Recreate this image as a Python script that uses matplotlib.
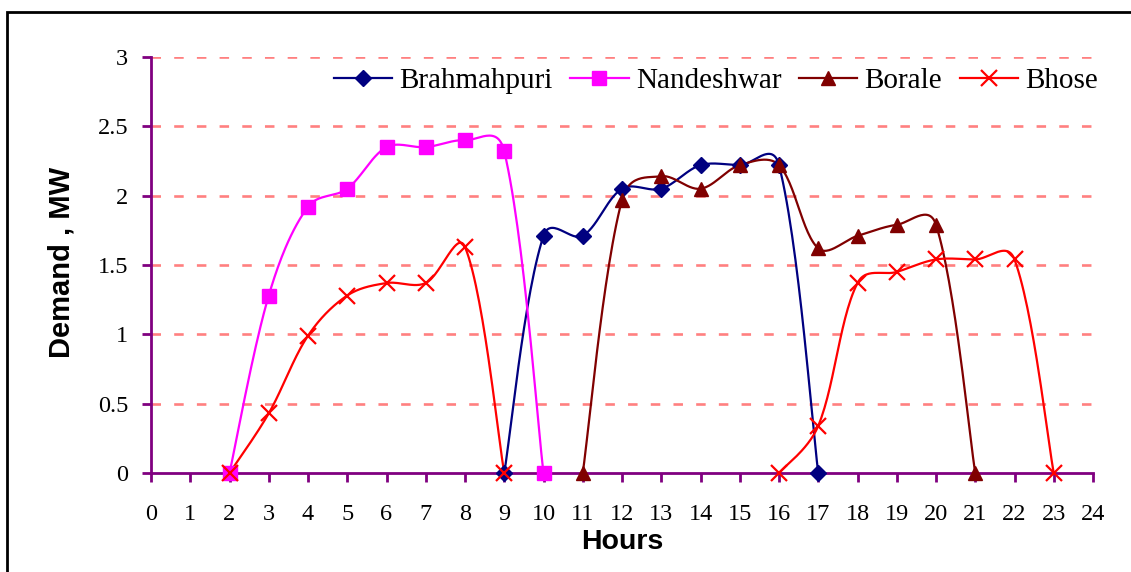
import numpy as np
import matplotlib
matplotlib.use("Agg")
import matplotlib.pyplot as plt
from matplotlib.lines import Line2D
from matplotlib.patches import Rectangle

# hourly demand (MW) at each substation
brahmahpuri_hours = [9, 10, 11, 12, 13, 14, 15, 16, 17]
brahmahpuri_demand = [0, 1.71, 1.71, 2.05, 2.05, 2.22, 2.22, 2.22, 0]

nandeshwar_hours = [2, 3, 4, 5, 6, 7, 8, 9, 10]
nandeshwar_demand = [0, 1.28, 1.92, 2.05, 2.35, 2.35, 2.40, 2.32, 0]

borale_hours = [11, 12, 13, 14, 15, 16, 17, 18, 19, 20, 21]
borale_demand = [0, 1.97, 2.14, 2.05, 2.22, 2.22, 1.62, 1.71, 1.79, 1.79, 0]

bhose_hours = [2, 3, 4, 5, 6, 7, 8, 9, 16, 17, 18, 19, 20, 21, 22, 23]
bhose_demand = [0, 0.43, 0.99, 1.28, 1.37, 1.37, 1.63, 0,
                0, 0.34, 1.37, 1.45, 1.54, 1.54, 1.54, 0]

x_ticks = list(range(0, 25))
y_ticks = [0, 0.5, 1, 1.5, 2, 2.5, 3]

SERIES = [
    ("Brahmahpuri", brahmahpuri_hours, brahmahpuri_demand, "#000080", "D", 8.5),
    ("Nandeshwar", nandeshwar_hours, nandeshwar_demand, "#FF00FF", "s", 9.5),
    ("Borale", borale_hours, borale_demand, "#800000", "^", 10.5),
    ("Bhose", bhose_hours, bhose_demand, "#FF0000", "x", 12),
]

# screen scale (pixels per data unit) used to weight the smoothing
PX_PER_HOUR = (1093 - 151) / 24
PX_PER_MW = (473 - 57) / 3
UNIFORM_WEIGHT = 0.35


def smooth_curve(x, y, steps=30):
    """Bezier smoothing through every point; control arms partly scaled by
    neighbouring segment lengths so short segments don't overshoot much."""
    pts = np.column_stack([x, y]).astype(float)
    scale = np.array([PX_PER_HOUR, PX_PER_MW])
    scr = pts * scale
    n = len(pts)

    def seg_len(a, b):
        return np.hypot(*(scr[b] - scr[a]))

    def arm(d_this, d_other):
        chord = d_this / (d_this + d_other) / 3 if d_other > 0 else 1 / 6
        return UNIFORM_WEIGHT / 6 + (1 - UNIFORM_WEIGHT) * chord

    out = [scr[0]]
    for i in range(n - 1):
        i0, i3 = max(i - 1, 0), min(i + 2, n - 1)
        p0, p1, p2, p3 = scr[i0], scr[i], scr[i + 1], scr[i3]
        d01, d12, d23 = seg_len(i0, i), seg_len(i, i + 1), seg_len(i + 1, i3)
        c1 = p1 + (p2 - p0) * arm(d12, d01)
        c2 = p2 - (p3 - p1) * arm(d12, d23)
        t = np.linspace(0, 1, steps)[1:, None]
        seg = ((1 - t) ** 3 * p1 + 3 * (1 - t) ** 2 * t * c1
               + 3 * (1 - t) * t ** 2 * c2 + t ** 3 * p2)
        out.extend(seg)
    out = np.array(out) / scale
    return out[:, 0], out[:, 1]


def split_runs(hours, values):
    """Break a series wherever consecutive hours are not adjacent."""
    runs, cur_h, cur_v = [], [], []
    for h, v in zip(hours, values):
        if cur_h and h - cur_h[-1] > 1:
            runs.append((cur_h, cur_v))
            cur_h, cur_v = [], []
        cur_h.append(h)
        cur_v.append(v)
    runs.append((cur_h, cur_v))
    return runs


def main() -> None:
    fig = plt.figure(figsize=(11.31, 5.72), dpi=100)
    ax = fig.add_axes([151 / 1131, 1 - 473 / 572, (1093 - 151) / 1131, (473 - 57) / 572])

    axis_color = "#800080"
    handles = []
    for name, hours, values, color, marker, ms in SERIES:
        for run_h, run_v in split_runs(hours, values):
            sx, sy = smooth_curve(run_h, run_v)
            ax.plot(sx, sy, color=color, lw=1.6, clip_on=False, zorder=3)
        mew = 1.6 if marker == "x" else 1.0
        ax.plot(hours, values, ls="none", marker=marker, ms=ms, color=color,
                markeredgewidth=mew, clip_on=False, zorder=4)
        handles.append(Line2D([], [], color=color, lw=1.6, marker=marker,
                              ms=ms, markeredgewidth=mew))

    ax.set_xlim(0, 24)
    ax.set_ylim(0, 3)
    ax.set_xticks(x_ticks)
    ax.set_yticks(y_ticks)
    ax.set_yticklabels(["0", "0.5", "1", "1.5", "2", "2.5", "3"])

    for y in y_ticks[1:]:
        ax.axhline(y, color="#FF8080", lw=1.9, dashes=(3.6, 5.0), zorder=1)

    for side in ("top", "right"):
        ax.spines[side].set_visible(False)
    for side in ("left", "bottom"):
        ax.spines[side].set_color(axis_color)
        ax.spines[side].set_linewidth(2)
    ax.tick_params(axis="both", colors=axis_color, width=2, length=6.5,
                   labelcolor="black", labelsize=17.5)
    ax.tick_params(axis="y", pad=10)
    ax.tick_params(axis="x", pad=16)
    for lbl in ax.get_xticklabels() + ax.get_yticklabels():
        lbl.set_fontfamily("Liberation Serif")

    fig.text(622 / 1131, 1 - 542 / 572, "Hours", ha="center", va="center",
             family="Liberation Sans", weight="bold", fontsize=20.5)
    fig.text(61 / 1131, 1 - 262 / 572, "Demand , MW", ha="center", va="center",
             rotation=90, family="Liberation Sans", weight="bold", fontsize=21)

    fig.legend(handles, [s[0] for s in SERIES], ncol=4, loc="center right",
               bbox_to_anchor=(1098 / 1131, 1 - 81 / 572), frameon=False,
               prop={"family": "Liberation Serif", "size": 21},
               handlelength=2.0, handletextpad=0.25, columnspacing=0.6,
               borderpad=0, borderaxespad=0)

    fig.patches.append(Rectangle((7 / 1131, -0.05), 1.5, 1.05 - 12 / 572,
                                 transform=fig.transFigure, fill=False,
                                 lw=2, ec="black"))

    fig.savefig("out.png", dpi=100)


if __name__ == "__main__":
    main()
